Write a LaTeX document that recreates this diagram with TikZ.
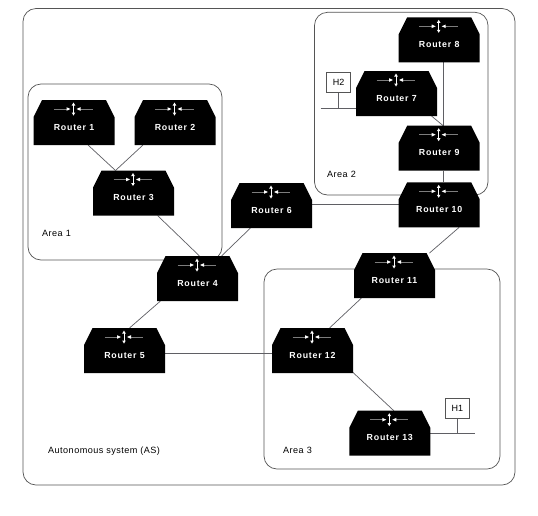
\documentclass[tikz,border=0pt]{standalone}
\usepackage{fontspec}
\setmainfont{Liberation Sans}
\newfontfamily\rtrfont[LetterSpace=9]{Liberation Sans Bold}
\newfontfamily\capfont[LetterSpace=5]{Liberation Sans}
\usetikzlibrary{backgrounds}
\definecolor{linegray}{RGB}{95,95,100}
\definecolor{boxgray}{RGB}{85,85,85}
\definecolor{icongray}{RGB}{125,125,125}
\tikzset{
  rtrbox/.style={minimum width=81pt,minimum height=45pt,inner sep=0pt,outer sep=0pt},
  rtrtext/.style={text=white,font=\rtrfont\fontsize{8.8}{10}\selectfont,inner sep=0pt},
  region/.style={draw=boxgray,line width=0.7pt,rounded corners=13pt},
  link/.style={draw=linegray,line width=0.7pt},
  hostbox/.style={draw=boxgray,line width=0.6pt,minimum width=24pt,minimum height=20pt,inner sep=0pt,font=\fontsize{9}{10}\selectfont},
  areatext/.style={font=\capfont\fontsize{9.1}{10}\selectfont,inner sep=0pt,anchor=west},
  iconline/.style={draw=icongray,line width=0.8pt},
  iconhead/.style={fill=white,draw=none},
}
\newcommand{\router}[4]{%
  \node[rtrbox] (#1) at (#2+40.5,#3+22.5) {};
  \begin{scope}[shift={(#1.north west)}]
    \fill[black] (0,17) -- (8.5,0) -- (72.5,0) -- (81,17) -- (81,45) -- (0,45) -- cycle;
    \draw[iconline] (20.5,9) -- (34,9) (46,9) -- (59,9);
    \fill[iconhead] (37,9) -- (33,7.2) -- (33,10.8) -- cycle;
    \fill[iconhead] (43,9) -- (47,7.2) -- (47,10.8) -- cycle;
    \draw[white,line width=0.8pt] (40,4) -- (40,14);
    \fill[iconhead] (40,2.5) -- (38.2,5.5) -- (41.8,5.5) -- cycle;
    \fill[iconhead] (40,15.5) -- (38.2,12.5) -- (41.8,12.5) -- cycle;
    \node[rtrtext] (#1-t) at (40.5,27.2) {#4};
  \end{scope}
}
\begin{document}
\begin{tikzpicture}[x=1pt,y=-1pt]
\useasboundingbox (0,0) rectangle (538,515);
\router{r1}{33.5}{100}{Router 1}
\router{r2}{134.5}{100}{Router 2}
\router{r3}{93}{170.5}{Router 3}
\router{r4}{157}{256}{Router 4}
\router{r5}{84}{328}{Router 5}
\router{r6}{231}{183}{Router 6}
\router{r7}{356}{71}{Router 7}
\router{r8}{398.7}{17.3}{Router 8}
\router{r9}{398.7}{125.7}{Router 9}
\router{r10}{398.7}{182.3}{Router 10}
\router{r11}{354}{253}{Router 11}
\router{r12}{272}{328}{Router 12}
\router{r13}{349.3}{410.7}{Router 13}
\node[hostbox] (h2) at (338.5,82.5) {H2};
\node[hostbox] (h1) at (457.3,408.2) {H1};
\coordinate (h2j) at (338.5,108.3);
\coordinate (h2e) at (320.7,108.3);
\coordinate (h1j) at (457.3,433.7);
\coordinate (h1e) at (474.7,433.7);
\node[areatext] (a1) at (42,233) {Area 1};
\node[areatext] (a2) at (327,174.5) {Area 2};
\node[areatext] (a3) at (283,450) {Area 3};
\node[areatext] (as) at (48,451) {Autonomous system (AS)};
\begin{pgfonlayer}{background}
\fill[white] (0,0) rectangle (538,515);
\draw[region] (23,8.5) rectangle (515,485);
\draw[region] (28,84) rectangle (222,260);
\draw[region] (314.5,12.3) rectangle (488,195);
\draw[region] (264,269) rectangle (500,469);
\draw[link] ([xshift=14pt]r1.south) -- ([xshift=-18pt]r3.north);
\draw[link] ([xshift=-32pt]r2.south) -- ([xshift=-18pt]r3.north);
\draw[link] ([xshift=24pt]r3.south) -- ([xshift=2pt]r4.north);
\draw[link] ([xshift=24pt]r4.north) -- ([xshift=-21pt]r6.south);
\draw[link] ([xshift=-37pt]r4.south) -- ([xshift=5pt]r5.north);
\draw[link] ([yshift=1.5pt]r6.east) -- ([yshift=0.8pt]r10.west);
\draw[link] ([xshift=4pt]r8.south) -- ([xshift=4pt]r9.north);
\draw[link] ([xshift=35pt]r7.south) -- ([xshift=4pt]r9.north);
\draw[link] ([xshift=4pt]r9.south) -- ([xshift=4pt]r10.north);
\draw[link] ([xshift=20pt]r10.south) -- ([xshift=35pt]r11.north);
\draw[link] ([xshift=-33pt]r11.south) -- ([xshift=17pt]r12.north);
\draw[link] ([xshift=40pt,yshift=1pt]r12.south) -- ([xshift=4pt]r13.north);
\draw[link] ([yshift=-2.5pt]r5.east) -- ([yshift=-2.5pt]r12.west);
\draw[link] (h2) -- (h2j);
\draw[link] (h2e) -- (h2j -| r7.west);
\draw[link] (h1) -- (h1j);
\draw[link] (h1j -| r13.east) -- (h1e);
\end{pgfonlayer}
\end{tikzpicture}
\end{document}
